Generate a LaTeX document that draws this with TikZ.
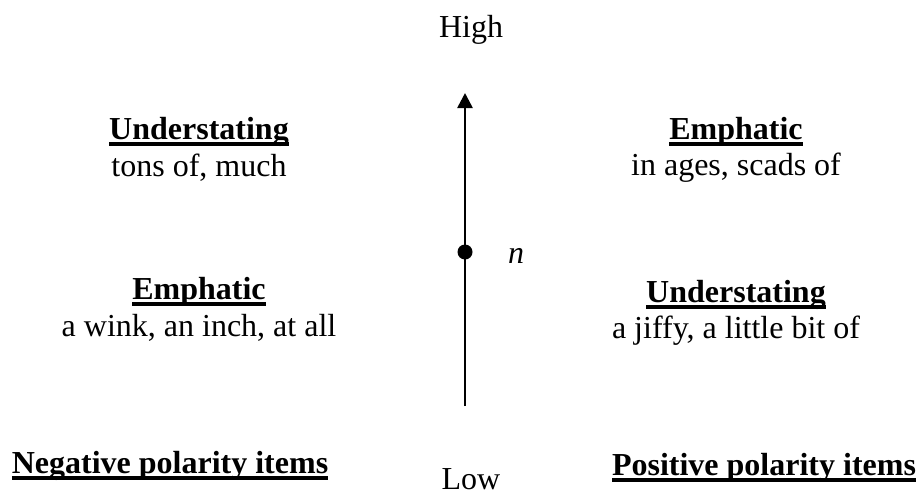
\documentclass[tikz,border=0pt]{standalone}
\usepackage{fontspec}
\setmainfont{Liberation Serif}
\usetikzlibrary{arrows.meta}
\newcommand\ulbf[1]{\setbox0\hbox{\bfseries #1}\rlap{\rule[-6.5pt]{\wd0}{3.3pt}}\box0}
\begin{document}
\begin{tikzpicture}[x=1pt,y=-1pt,
  lbl/.style={inner sep=0pt, anchor=base, font=\fontsize{32}{38}\selectfont},
  axis/.style={line width=2.6pt, -{Triangle[length=15pt,width=15pt]}},
  dotmark/.style={circle, fill=black, inner sep=0pt, minimum size=15pt}]
\useasboundingbox (0,0) rectangle (919,493);
\node[lbl] (high) at (471,37) {High};
\coordinate (top) at (465,93);
\coordinate (bot) at (465,406);
\draw[axis] (bot) -- (top);
\node[dotmark] (dot) at (465,252) {};
\node[lbl] (n) at (516,263) {\textit{n}};
% left
\node[lbl] (lu) at (199,139) {\ulbf{Understating}};
\node[lbl] (lut) at (199,176) {tons of, much};
\node[lbl] (le) at (199,299) {\ulbf{Emphatic}};
\node[lbl] (let) at (199,336) {a wink, an inch, at all};
% right
\node[lbl] (re) at (736,139) {\ulbf{Emphatic}};
\node[lbl] (ret) at (736,175) {in ages, scads of};
\node[lbl] (ru) at (736,302) {\ulbf{Understating}};
\node[lbl] (rut) at (736,338) {a jiffy, a little bit of};
% bottom
\node[lbl] (neg) at (170,473) {\ulbf{Negative polarity items}};
\node[lbl] (low) at (471,489) {Low};
\node[lbl] (pos) at (764,475) {\ulbf{Positive polarity items}};
\end{tikzpicture}
\end{document}
